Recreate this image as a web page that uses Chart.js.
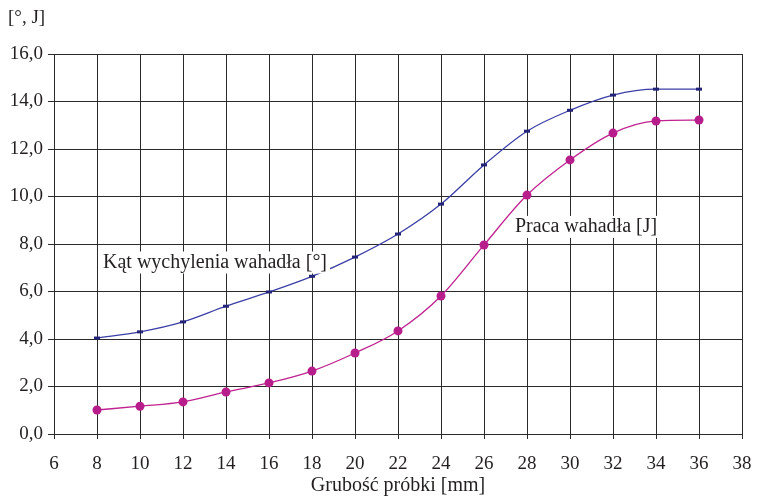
<!DOCTYPE html>
<html>
<head>
<meta charset="utf-8">
<script src="https://cdn.jsdelivr.net/npm/chart.js@4/dist/chart.umd.min.js"></script>
<style>
  html, body { margin: 0; padding: 0; background: #fff; }
  #wrap { width: 757px; height: 498px; }
</style>
</head>
<body>
<div id="wrap"><canvas id="chart" width="757" height="498"></canvas></div>
<script>
"use strict";

// thickness of sample [mm]
var grubosc = [8, 10, 12, 14, 16, 18, 20, 22, 24, 26, 28, 30, 32, 34, 36];

// deflection angle of the pendulum [deg]
var katWychylenia = [4.04, 4.30, 4.72, 5.38, 5.98, 6.64, 7.45, 8.42, 9.68, 11.33, 12.75, 13.63, 14.27, 14.52, 14.52];

// work of the pendulum [J]
var pracaWahadla = [1.01, 1.17, 1.35, 1.77, 2.15, 2.65, 3.41, 4.34, 5.81, 7.96, 10.06, 11.54, 12.67, 13.18, 13.22];

// labels written inside the plot (text, x, y in data units)
var podpisy = [
	{ text: 'Kąt wychylenia wahadła [°]', x: 8.28, y: 7.22 },
	{ text: 'Praca wahadła [J]', x: 27.44, y: 8.72 }
];

var FONT = '"Liberation Serif", "DejaVu Serif", serif';
var GRID = '#2a2a2a';

function toPoints(xs, ys) {
	return xs.map(function(x, i) { return { x: x, y: ys[i] }; });
}

// draws the in-plot series labels and the unit label at top left
var textPlugin = {
	id: 'podpisy',
	afterDatasetsDraw: function(chart) {
		var ctx = chart.ctx;
		var xs = chart.scales.x, ys = chart.scales.y;
		ctx.save();
		ctx.font = '20px ' + FONT;
		ctx.textBaseline = 'middle';
		ctx.textAlign = 'left';
		podpisy.forEach(function(p) {
			var px = xs.getPixelForValue(p.x);
			var py = ys.getPixelForValue(p.y);
			var w = ctx.measureText(p.text).width;
			ctx.fillStyle = '#fff';
			ctx.fillRect(px - 3, py - 11, w + 6, 22);
			ctx.fillStyle = '#231f20';
			ctx.fillText(p.text, px, py);
		});
		ctx.font = '19px ' + FONT;
		ctx.fillText('[°, J]', 8, 18);
		ctx.restore();
	}
};

new Chart(document.getElementById('chart'), {
	type: 'line',
	data: {
		datasets: [{
			label: 'Kąt wychylenia wahadła [°]',
			data: toPoints(grubosc, katWychylenia),
			borderColor: '#3b3fa6',
			borderWidth: 1.3,
			cubicInterpolationMode: 'monotone',
			pointStyle: 'line',
			pointRadius: 3,
			pointBorderWidth: 3,
			pointBorderColor: '#23237a',
			pointBackgroundColor: '#23237a'
		}, {
			label: 'Praca wahadła [J]',
			data: toPoints(grubosc, pracaWahadla),
			borderColor: '#c0228f',
			borderWidth: 1.3,
			cubicInterpolationMode: 'monotone',
			pointStyle: 'circle',
			pointRadius: 4.5,
			pointBorderWidth: 0,
			pointBackgroundColor: '#b81d8c'
		}]
	},
	options: {
		responsive: false,
		animation: false,
		layout: { padding: { left: 0, right: 15, top: 54, bottom: 0 } },
		plugins: {
			legend: { display: false },
			tooltip: { enabled: false }
		},
		scales: {
			x: {
				type: 'linear',
				min: 6,
				max: 38,
				ticks: {
					stepSize: 2,
					color: '#231f20',
					font: { family: FONT, size: 19 },
					maxRotation: 0,
					padding: 14
				},
				grid: { color: GRID, lineWidth: 1, tickLength: 5 },
				border: { color: GRID },
				title: {
					display: true,
					text: 'Grubość próbki [mm]',
					color: '#231f20',
					font: { family: FONT, size: 20 },
					padding: { top: 0, bottom: 0 }
				},
				afterFit: function(scale) {
					scale.height = 64;
					scale.paddingLeft = 0;
					scale.paddingRight = 0;
				}
			},
			y: {
				min: 0,
				max: 16,
				ticks: {
					stepSize: 2,
					color: '#231f20',
					font: { family: FONT, size: 19 },
					padding: 5,
					callback: function(v) { return v.toFixed(1).replace('.', ','); }
				},
				grid: { color: GRID, lineWidth: 1, tickLength: 6 },
				border: { color: GRID },
				afterFit: function(scale) { scale.width = 54; }
			}
		}
	},
	plugins: [textPlugin]
});
</script>
</body>
</html>
